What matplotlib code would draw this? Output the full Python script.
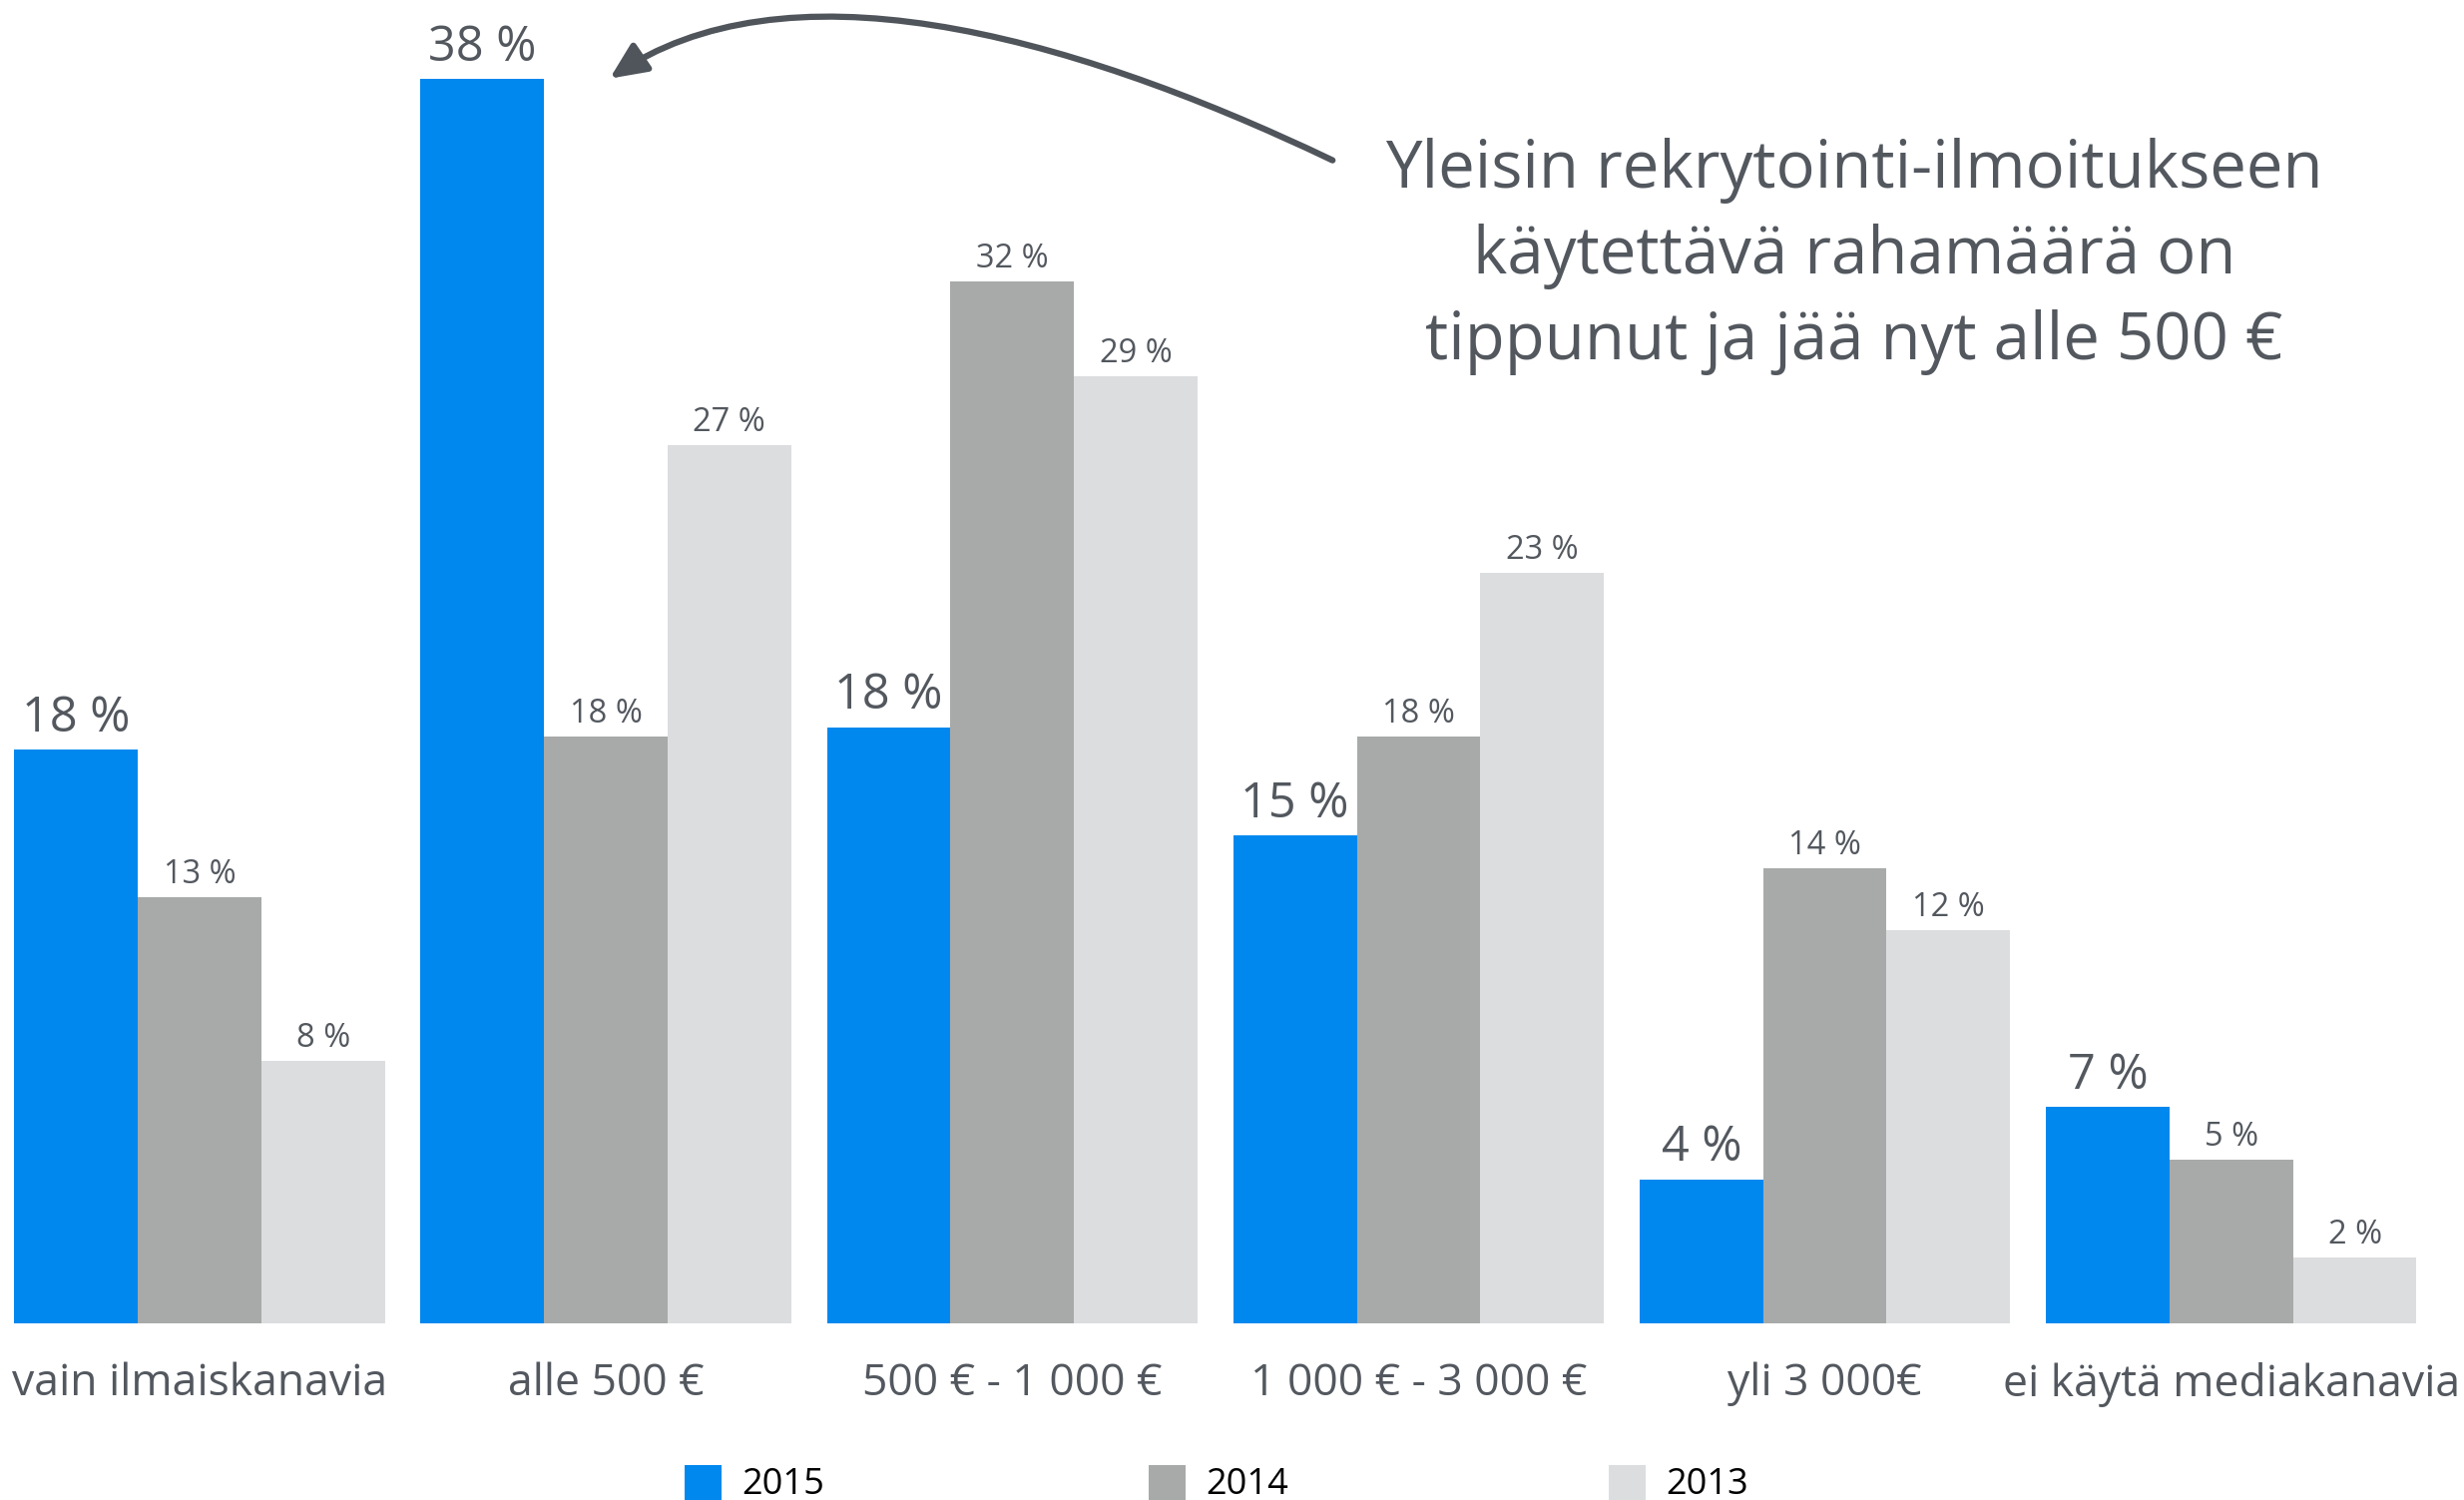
import matplotlib
matplotlib.use("Agg")
import matplotlib.pyplot as plt
from matplotlib.patches import FancyArrowPatch, Rectangle
from matplotlib.path import Path
import numpy as np

categories = ["vain ilmaiskanavia", "alle 500 €", "500 € - 1 000 €",
              "1 000 € - 3 000 €", "yli 3 000€", "ei käytä mediakanavia"]
years = ["2015", "2014", "2013"]
v2015 = [17.5, 38.0, 18.2, 14.9, 4.4, 6.6]
v2014 = [13.0, 17.9, 31.8, 17.9, 13.9, 5.0]
v2013 = [8.0, 26.8, 28.9, 22.9, 12.0, 2.0]
lab2015 = ["18 %", "38 %", "18 %", "15 %", "4 %", "7 %"]
lab2014 = ["13 %", "18 %", "32 %", "18 %", "14 %", "5 %"]
lab2013 = ["8 %", "27 %", "29 %", "23 %", "12 %", "2 %"]
note = "Yleisin rekrytointi-ilmoitukseen\nkäytettävä rahamäärä on\ntippunut ja jää nyt alle 500 €"

colors = ["#0088EE", "#A7AAA9", "#DCDDDF"]
txt = "#53585F"
FONT = ["Open Sans", "DejaVu Sans"]
plt.rcParams["font.family"] = FONT

W, H = 2469, 1503
fig = plt.figure(figsize=(W / 100, H / 100), dpi=100)
ax = fig.add_axes([-0.0015, 0.1178, 0.9895, 0.8736])

x = np.arange(len(categories))
bw = 0.304
series = [v2015, v2014, v2013]
labels = [lab2015, lab2014, lab2013]
for i, (vals, labs) in enumerate(zip(series, labels)):
    xs = x + (i - 1) * bw
    ax.bar(xs, vals, width=bw, color=colors[i], linewidth=0)
    big = i == 0
    for xi, v, l in zip(xs, vals, labs):
        ax.annotate(l, (xi, v), xytext=(0, 13 if big else 10), textcoords="offset points",
                    ha="center", va="baseline", color=txt,
                    fontsize=35 if big else 23.5)

ax.set_xlim(-0.5, 5.5)
ax.set_ylim(0, 40)
ax.set_xticks(x)
ax.set_xticklabels(categories, fontsize=32, color=txt)
ax.tick_params(axis="x", length=0, pad=28)
ax.set_yticks([])
for s in ax.spines.values():
    s.set_visible(False)

# overlay in pixel coordinates
ov = fig.add_axes([0, 0, 1, 1], zorder=5)
ov.set_xlim(0, W)
ov.set_ylim(H, 0)
ov.axis("off")
ov.patch.set_alpha(0)

k = W / 1568
pts = [(848 * k, 102 * k), (672 * k, 18 * k), (498 * k, -25 * k), (388 * k, 50 * k)]
path = Path(pts, [Path.MOVETO, Path.CURVE4, Path.CURVE4, Path.CURVE4])
arr = FancyArrowPatch(path=path, arrowstyle="-|>,head_length=22,head_width=10",
                      color="#50555C", linewidth=4.5, mutation_scale=1)
ov.add_patch(arr)

ov.text(1858, 257, note, ha="center", va="center", fontsize=47, color=txt,
        linespacing=1.39)

leg_x = [686, 1151, 1612]
for lx, yr, c in zip(leg_x, years, colors):
    ov.add_patch(Rectangle((lx, 1468), 37, 40, color=c, linewidth=0, clip_on=False))
    ov.text(lx + 57, 1488, yr, ha="left", va="center", fontsize=26, color="black")

fig.savefig("out.png", dpi=100)
